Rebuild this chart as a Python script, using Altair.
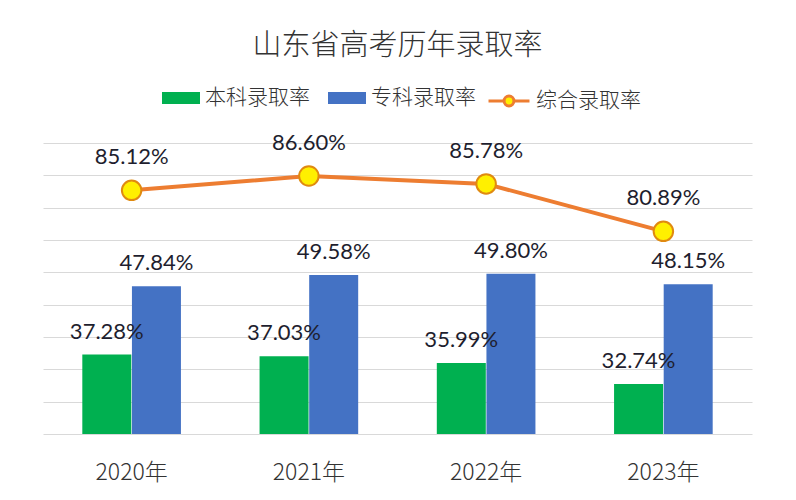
import altair as alt
import pandas as pd

years = ["2020年", "2021年", "2022年", "2023年"]
series = ["本科录取率", "专科录取率", "综合录取率"]
benke = [37.28, 37.03, 35.99, 32.74]
zhuanke = [47.84, 49.58, 49.80, 48.15]
zonghe = [85.12, 86.60, 85.78, 80.89]
bar_colors = ["#00B050", "#4472C4"]
line_color = "#ED7D31"
marker_fill = "#FFF000"
grid_vals = [25, 30, 35, 40, 45, 50, 55, 60, 65, 70]

bars_df = pd.DataFrame({
    "year": years * 2,
    "series": [series[0]] * 4 + [series[1]] * 4,
    "value": benke + zhuanke,
})
bars_df["label"] = bars_df["value"].map(lambda v: f"{v:.2f}%")
line_df = pd.DataFrame({"year": years, "series": [series[2]] * 4, "value": zonghe})
line_df["label"] = line_df["value"].map(lambda v: f"{v:.2f}%")

CJK = "Noto Sans CJK SC"
NUM = "Lato"

x_axis = alt.Axis(title=None, labelAngle=0, domain=False, ticks=False,
                  labelFont=CJK, labelFontSize=23, labelFontWeight=300, labelColor="#333333",
                  labelPadding=27, grid=False)
x_enc = alt.X("year:N", sort=years,
              scale=alt.Scale(paddingInner=0.44, paddingOuter=0.22),
              axis=x_axis)

y_axis = alt.Axis(values=grid_vals, grid=True, labels=False, ticks=False,
                  domain=False, title=None, gridColor="#D9D9D9", gridWidth=1)
y_bar = alt.Y("value:Q",
              scale=alt.Scale(domain=[25, 70], nice=False, zero=False),
              axis=y_axis)

xoff = alt.XOffset("series:N", sort=series[:2], scale=alt.Scale(paddingInner=0, paddingOuter=0))

bars = alt.Chart(bars_df).mark_bar(size=49).encode(
    x=x_enc,
    xOffset=xoff,
    y=y_bar,
    y2=alt.datum(25),
    color=alt.Color("series:N", sort=series[:2],
                    scale=alt.Scale(domain=series[:2], range=bar_colors),
                    legend=alt.Legend(title=None, orient="none", legendX=119, legendY=-64,
                                      direction="horizontal",
                                      symbolType="M-1,-0.32H1V0.32H-1Z", symbolSize=1444,
                                      symbolStrokeWidth=0,
                                      labelFont=CJK, labelFontSize=21, labelFontWeight=300,
                                      labelColor="#333333",
                                      labelOffset=5, columnPadding=18, labelLimit=200)),
)

bar_text = alt.Chart(bars_df).mark_text(dy=-23, font=NUM, fontSize=22, color="#1E1E2E").encode(
    x=x_enc,
    xOffset=xoff,
    y=y_bar,
    text="label:N",
)

bar_layer = alt.layer(bars, bar_text)

y_line = alt.Y("value:Q", scale=alt.Scale(domain=[60, 90], nice=False, zero=False), axis=None)

line = alt.Chart(line_df).mark_line(strokeWidth=4).encode(
    x=x_enc,
    y=y_line,
    stroke=alt.Stroke("series:N",
                      scale=alt.Scale(domain=[series[2]], range=[line_color]),
                      legend=alt.Legend(title=None, orient="none", legendX=444, legendY=-64,
                                        symbolType="M-1,0H-0.24M0.24,0H1M0.24,0A0.24,0.24 0 1,1 -0.24,0A0.24,0.24 0 1,1 0.24,0Z",
                                        symbolSize=1680, symbolStrokeWidth=3,
                                        symbolFillColor=marker_fill,
                                        labelFont=CJK, labelFontSize=21, labelFontWeight=300,
                                        labelColor="#333333",
                                        labelOffset=5, labelLimit=200)),
)

points = alt.Chart(line_df).mark_point(shape="circle", filled=True, fill=marker_fill,
                                       stroke="#E08A10", strokeWidth=2, size=380,
                                       opacity=1).encode(
    x=x_enc,
    y=y_line,
)

line_text = alt.Chart(line_df).mark_text(dy=-33, font=NUM, fontSize=22, color="#1E1E2E").encode(
    x=x_enc,
    y=y_line,
    text="label:N",
)

line_layer = alt.layer(line, points, line_text)

chart = alt.layer(bar_layer, line_layer).resolve_scale(
    y="independent", color="independent", stroke="independent"
).properties(
    width=709, height=291,
    autosize=alt.AutoSizeParams(type="none"),
    padding={"left": 35, "top": 135, "right": 36, "bottom": 58},
    background="#FFFFFF",
    title=alt.Title("山东省高考历年录取率", font=CJK, fontSize=29, fontWeight=300,
                    color="#333333", anchor="middle", offset=18),
).configure_view(stroke=None)

chart.save("out.html", embed_options={"renderer": "svg", "actions": False})
